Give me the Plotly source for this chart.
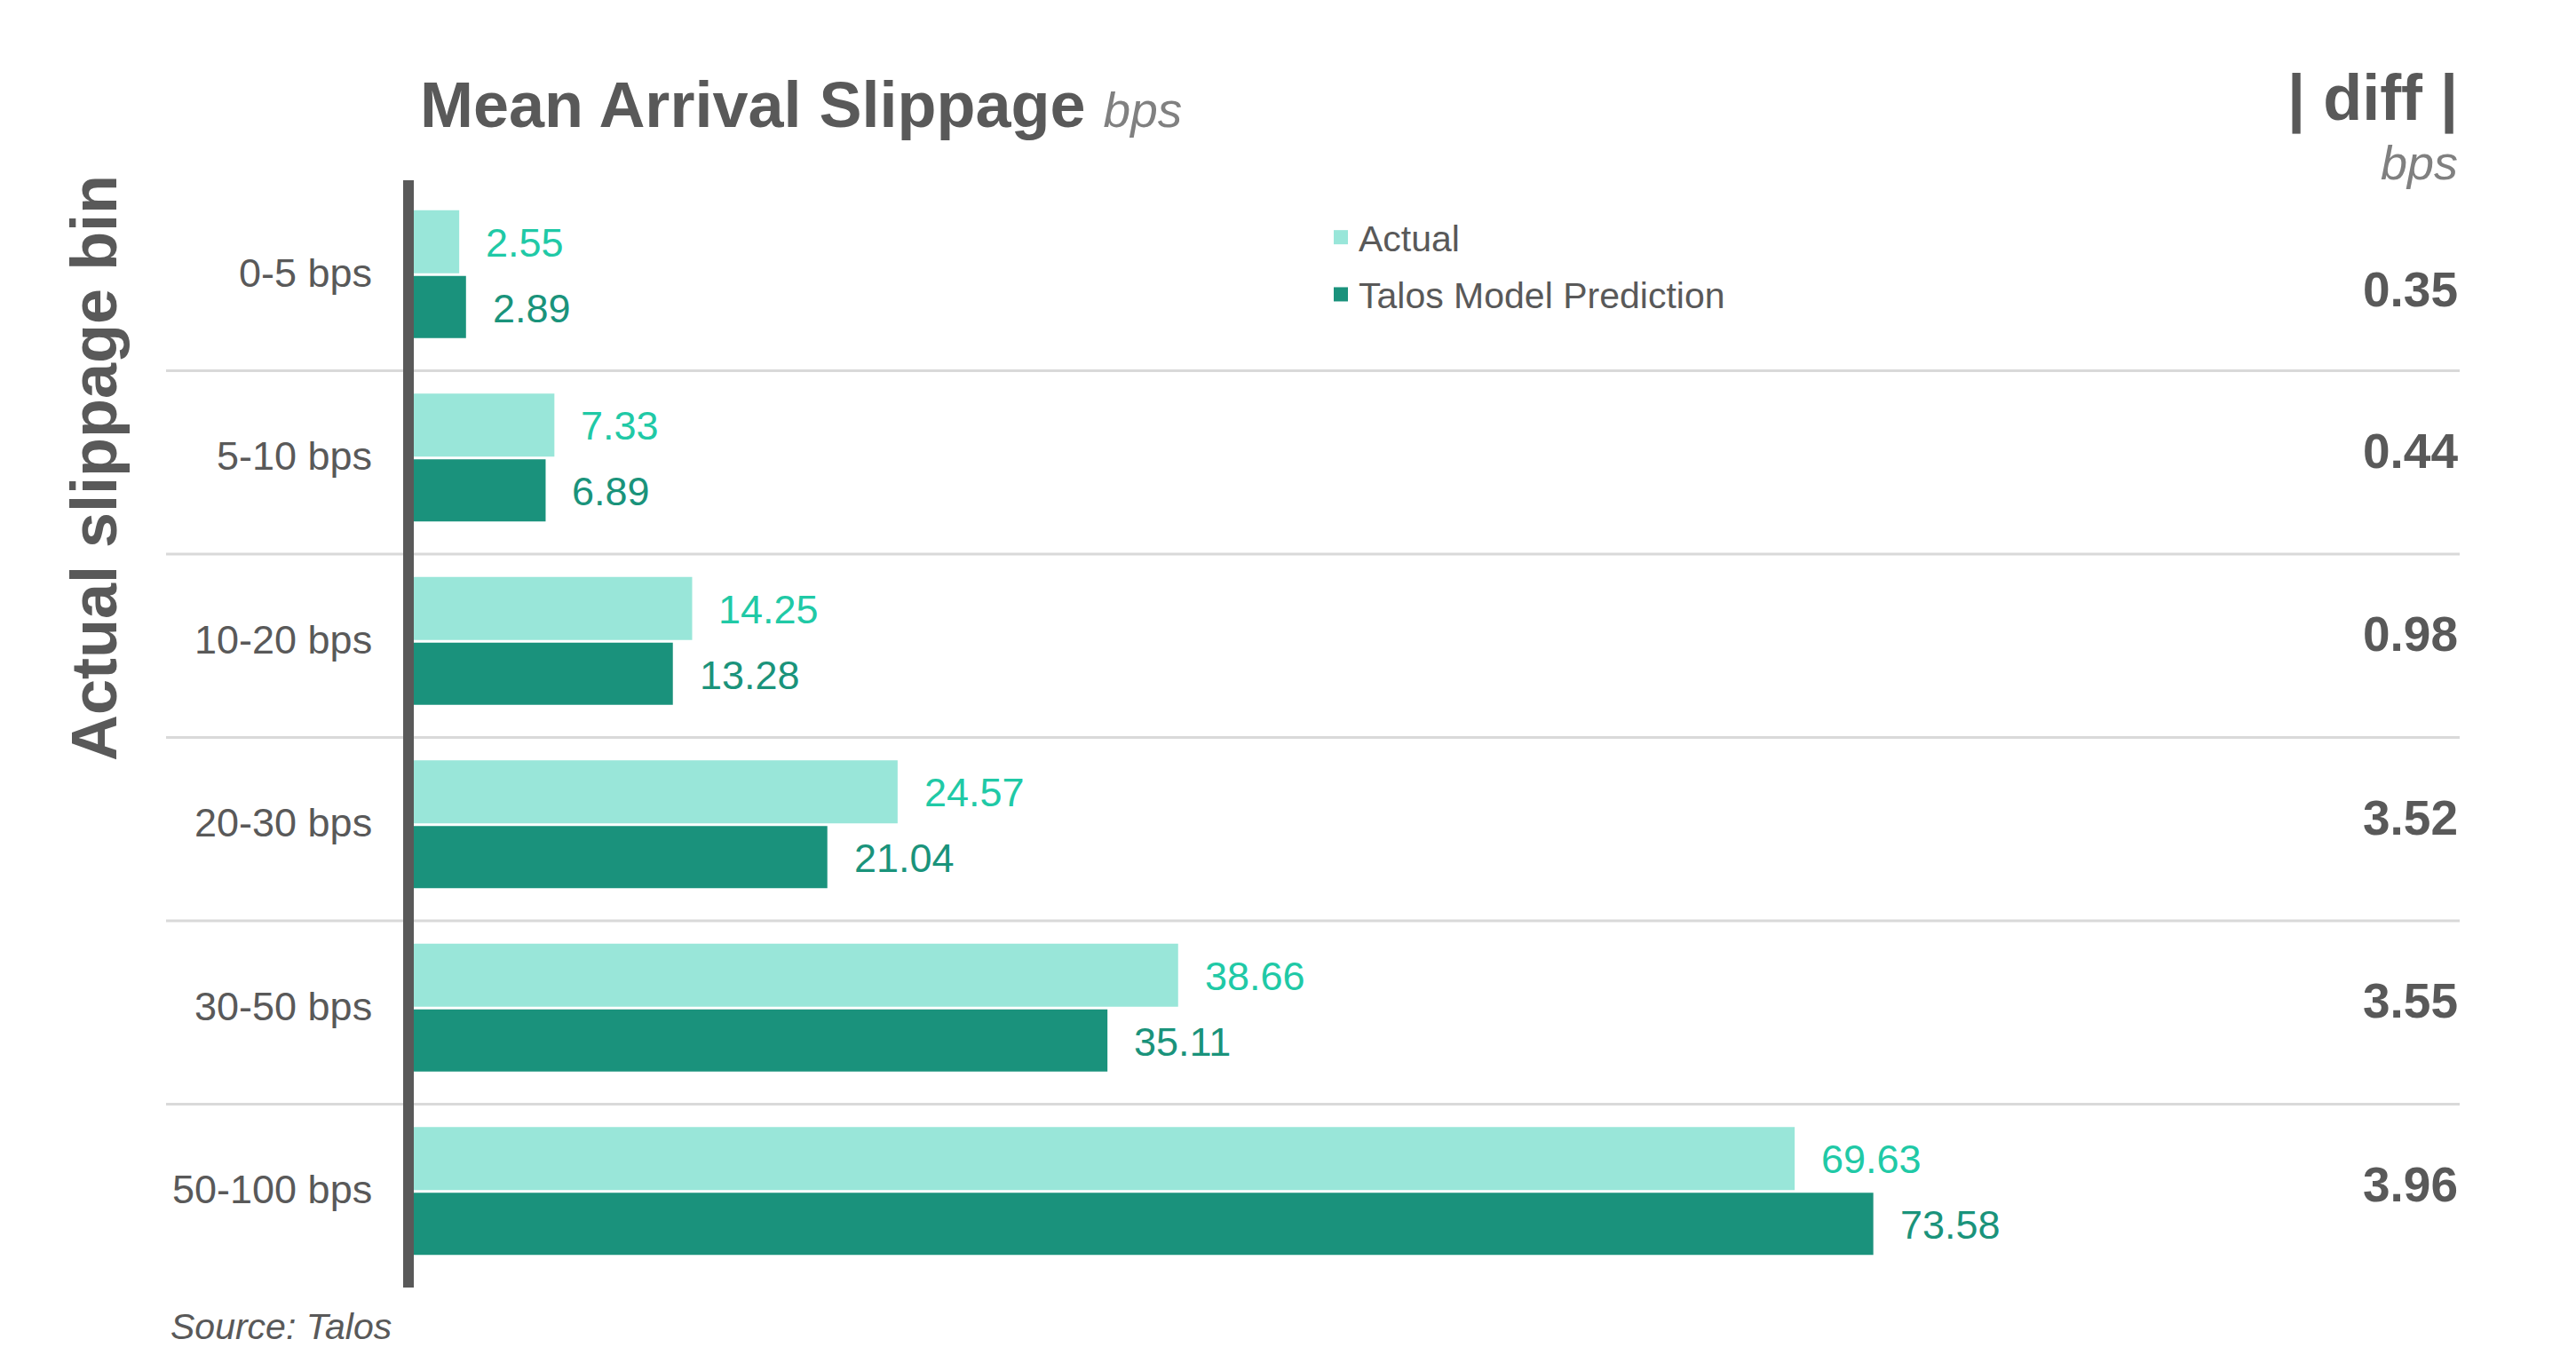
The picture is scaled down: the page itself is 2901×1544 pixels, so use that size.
import plotly.graph_objects as go

categories = ["0-5 bps", "5-10 bps", "10-20 bps", "20-30 bps", "30-50 bps", "50-100 bps"]
actual = [2.55, 7.33, 14.25, 24.57, 38.66, 69.63]
predicted = [2.89, 6.89, 13.28, 21.04, 35.11, 73.58]
abs_diff = [0.35, 0.44, 0.98, 3.52, 3.55, 3.96]
series_names = ["Actual", "Talos Model Prediction"]

W, H = 2901, 1544


def px(x):
    return x / W


def py(y):
    return 1 - y / H


FONT = "Liberation Sans, Arial, sans-serif"
GRAY = "#595959"
LIGHT_GRAY = "#808080"
C_ACT_BAR = "#99e6d9"
C_PRED_BAR = "#1a927c"
C_ACT_TXT = "#20c9a6"
C_PRED_TXT = "#1a937b"

fig = go.Figure()
fig.add_trace(go.Bar(
    y=categories, x=actual, orientation="h", name=series_names[0],
    offset=-0.375, width=0.344,
    marker=dict(color=C_ACT_BAR, line=dict(width=0)), hoverinfo="skip",
    showlegend=False,
))
fig.add_trace(go.Bar(
    y=categories, x=predicted, orientation="h", name=series_names[1],
    offset=-0.017, width=0.339,
    marker=dict(color=C_PRED_BAR, line=dict(width=0)), hoverinfo="skip",
    showlegend=False,
))
# legend entries (square swatches)
for name, col, grp in [(series_names[0], C_ACT_BAR, "a"), (series_names[1], C_PRED_BAR, "b")]:
    fig.add_trace(go.Scatter(
        x=[None], y=[None], mode="markers", name=name, legendgroup=grp,
        marker=dict(symbol="square", size=18, color=col), hoverinfo="skip",
    ))

annotations = []
# category labels
for cat in categories:
    annotations.append(dict(
        x=px(421), y=cat, xref="paper", yref="y", text=cat, showarrow=False,
        xanchor="right", yanchor="middle", yshift=7,
        font=dict(family=FONT, size=45, color=GRAY),
    ))
# value labels next to bars
for cat, v in zip(categories, actual):
    annotations.append(dict(
        x=v, y=cat, xref="x", yref="y", text=f"{v:.2f}", showarrow=False,
        xanchor="left", yanchor="middle", xshift=28, yshift=41,
        font=dict(family=FONT, size=45, color=C_ACT_TXT),
    ))
for cat, v in zip(categories, predicted):
    annotations.append(dict(
        x=v, y=cat, xref="x", yref="y", text=f"{v:.2f}", showarrow=False,
        xanchor="left", yanchor="middle", xshift=28, yshift=-33,
        font=dict(family=FONT, size=45, color=C_PRED_TXT),
    ))
# |diff| column
for i, (cat, d) in enumerate(zip(categories, abs_diff)):
    annotations.append(dict(
        x=px(2770), y=cat, xref="paper", yref="y", text=f"<b>{d:.2f}</b>",
        showarrow=False, xanchor="right", yanchor="middle",
        yshift=(-12 if i == 0 else 13),
        font=dict(family=FONT, size=55, color=GRAY),
    ))
# titles
annotations.append(dict(
    x=px(471), y=py(118), xref="paper", yref="paper", showarrow=False,
    xanchor="left", yanchor="middle",
    text="<b>Mean Arrival Slippage</b> <span style='font-size:55px;color:#808080'><i>bps</i></span>",
    font=dict(family=FONT, size=72, color=GRAY),
))
annotations.append(dict(
    x=px(2770), y=py(110), xref="paper", yref="paper", showarrow=False,
    xanchor="right", yanchor="middle", text="<b>| diff |</b>",
    font=dict(family=FONT, size=72, color=GRAY),
))
annotations.append(dict(
    x=px(2770), y=py(183), xref="paper", yref="paper", showarrow=False,
    xanchor="right", yanchor="middle", text="<i>bps</i>",
    font=dict(family=FONT, size=54, color=LIGHT_GRAY),
))
annotations.append(dict(
    x=px(106), y=py(527), xref="paper", yref="paper", showarrow=False,
    xanchor="center", yanchor="middle", textangle=-90,
    text="<b>Actual slippage bin</b>",
    font=dict(family=FONT, size=72, color=GRAY),
))
annotations.append(dict(
    x=px(190), y=py(1494), xref="paper", yref="paper", showarrow=False,
    xanchor="left", yanchor="middle", text="<i>Source: Talos</i>",
    font=dict(family=FONT, size=41, color=GRAY),
))

shapes = []
for i in range(len(categories) - 1):
    shapes.append(dict(
        type="line", xref="paper", yref="y", x0=px(187), x1=px(2770),
        y0=i + 0.5, y1=i + 0.5, line=dict(color="#d9d9d9", width=3), layer="below",
    ))
# vertical baseline (category axis line)
shapes.append(dict(
    type="line", xref="paper", yref="paper", x0=px(460), x1=px(460),
    y0=py(1450), y1=py(203), line=dict(color=GRAY, width=12), layer="above",
))

fig.update_layout(
    width=W, height=H, autosize=False,
    margin=dict(l=0, r=0, t=0, b=0),
    paper_bgcolor="white", plot_bgcolor="white",
    barmode="overlay",
    font=dict(family=FONT, size=45, color=GRAY),
    xaxis=dict(domain=[px(460), px(2770)], range=[0, (2770 - 460) / 22.42],
               showticklabels=False, showgrid=False, zeroline=False, showline=False,
               fixedrange=True),
    yaxis=dict(domain=[py(1450), py(211)], type="category",
               categoryorder="array", categoryarray=categories,
               range=[len(categories) - 0.5, -0.5],
               showgrid=False, zeroline=False, showline=False, ticks="",
               showticklabels=False, fixedrange=True),
    showlegend=True,
    legend=dict(x=px(1490), y=py(234), xanchor="left", yanchor="top",
                traceorder="grouped", tracegroupgap=8,
                font=dict(family=FONT, size=41, color=GRAY),
                bgcolor="rgba(0,0,0,0)", borderwidth=0),
    annotations=annotations,
    shapes=shapes,
)

fig.write_html("out.html", config={"displayModeBar": False},
               post_script="document.body.style.margin='0';document.body.style.overflow='hidden';")
